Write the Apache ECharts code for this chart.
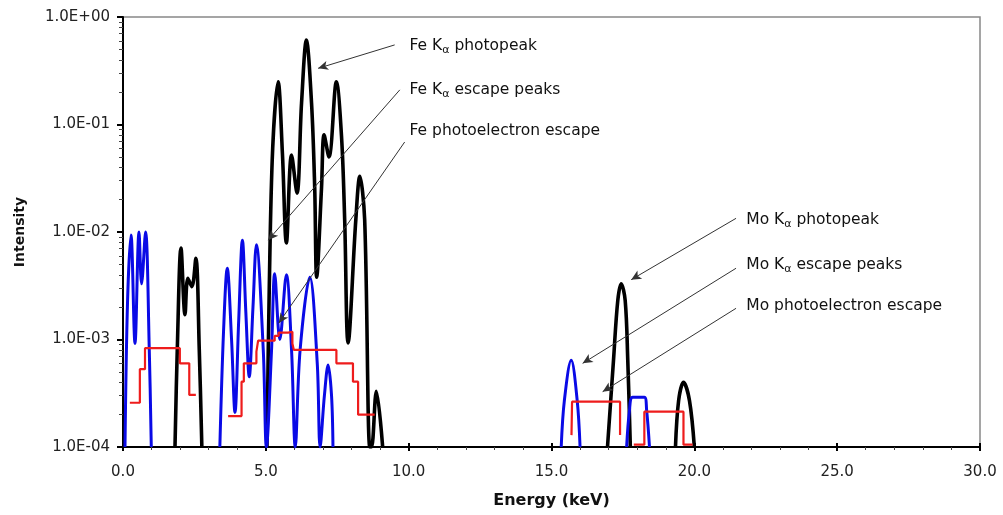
<!DOCTYPE html>
<html>
<head>
<meta charset="utf-8">
<style>
html, body { margin: 0; padding: 0; background: #fff; }
#chart { width: 1003px; height: 515px; }
</style>
<script src="https://cdn.jsdelivr.net/npm/echarts@6.0.0/dist/echarts.min.js"></script>
</head>
<body>
<div id="chart"></div>
<script>
// tick labels
const xTickLabels = ['0.0', '5.0', '10.0', '15.0', '20.0', '25.0', '30.0'];
const yTickLabels = ['1.0E-04', '1.0E-03', '1.0E-02', '1.0E-01', '1.0E+00'];

// photopeaks (black): [keV, intensity], one array per peak group
const blackSegments = [
    [[1.82, 1e-4], [1.90, 8e-4], [2.03, 7.1e-3], [2.17, 1.7e-3], [2.27, 3.7e-3], [2.41, 3.1e-3],
     [2.55, 5.7e-3], [2.67, 8e-4], [2.76, 1e-4]],
    [[5.04, 1e-4], [5.12, 3e-3], [5.24, 0.06], [5.43, 0.25], [5.58, 0.054], [5.72, 7.9e-3],
     [5.90, 0.052], [6.09, 0.023], [6.25, 0.158], [6.42, 0.61], [6.60, 0.158], [6.71, 0.0264],
     [6.78, 3.8e-3], [6.95, 0.026], [7.04, 0.080], [7.21, 0.050], [7.47, 0.25], [7.65, 0.077],
     [7.76, 0.013], [7.88, 9.3e-4], [8.15, 0.013], [8.29, 0.033], [8.46, 0.013], [8.64, 1e-4],
     [8.70, 1e-4], [8.87, 3.3e-4], [9.09, 1e-4]],
    [[16.96, 1e-4], [17.17, 6.4e-4], [17.32, 2.3e-3], [17.44, 3.3e-3], [17.58, 2.3e-3],
     [17.67, 6.4e-4], [17.76, 1e-4]],
    [[19.34, 1e-4], [19.45, 2.7e-4], [19.62, 4.0e-4], [19.83, 2.7e-4], [20.0, 1e-4]]
];

// escape peaks (blue)
const blueSegments = [
    [[0.07, 1e-4], [0.16, 2.3e-3], [0.28, 9.4e-3], [0.42, 9.2e-4], [0.56, 1.0e-2], [0.65, 3.3e-3],
     [0.79, 1.0e-2], [0.92, 8e-4], [0.99, 1e-4]],
    [[3.39, 1e-4], [3.52, 1.2e-3], [3.65, 4.6e-3], [3.80, 1e-3], [3.92, 2.1e-4], [4.05, 1.5e-3],
     [4.18, 8.4e-3], [4.30, 1.8e-3], [4.42, 4.5e-4], [4.55, 2e-3], [4.67, 7.6e-3], [4.91, 8e-4],
     [5.02, 1e-4], [5.20, 8e-4], [5.31, 4.1e-3], [5.49, 1.0e-3], [5.72, 4.0e-3], [5.90, 8e-4],
     [6.03, 1e-4], [6.20, 8e-4], [6.54, 3.8e-3], [6.80, 6e-4], [6.90, 1e-4], [7.05, 3e-4],
     [7.18, 5.8e-4], [7.30, 3e-4], [7.35, 1e-4]],
    [[15.34, 1e-4], [15.45, 2.7e-4], [15.69, 6.4e-4], [15.90, 2.7e-4], [16.0, 1e-4]],
    [[17.63, 1e-4], [17.73, 2.2e-4], [17.84, 2.9e-4], [18.25, 2.9e-4], [18.33, 2.2e-4], [18.43, 1e-4]]
];

// photoelectron escape (red), step levels: value holds until next point
const redSegments = [
    [[0.24, 2.58e-4], [0.59, 5.3e-4], [0.77, 8.3e-4], [1.99, 6.0e-4], [2.32, 3.05e-4], [2.55, 3.05e-4]],
    [[3.68, 1.94e-4], [4.15, 4.05e-4], [4.23, 6.0e-4], [4.67, 7.7e-4], [4.73, 9.75e-4], [5.31, 1.08e-3],
     [5.45, 1.16e-3], [5.78, 1.18e-3], [5.93, 9.2e-4], [5.98, 8.0e-4], [7.47, 6.0e-4], [8.05, 4.05e-4],
     [8.23, 2.0e-4], [8.81, 2.0e-4]],
    [[15.70, 1.29e-4], [15.72, 2.64e-4], [17.40, 1.29e-4], [17.41, 1.29e-4]],
    [[17.88, 1.05e-4], [18.25, 2.13e-4], [19.62, 1.05e-4], [19.94, 1.05e-4]]
];

// annotations: arrow [from, to] and text anchors (data coords)
const arrowLines = [
    [[9.51, 0.55], [6.83, 0.333]],
    [[9.69, 0.21], [5.08, 8.4e-3]],
    [[9.86, 0.0687], [5.45, 1.42e-3]],
    [[21.46, 0.0134], [17.79, 3.6e-3]],
    [[21.46, 4.6e-3], [16.09, 6.0e-4]],
    [[21.46, 1.95e-3], [16.79, 3.27e-4]]
];
const labelTexts = [
    'Fe K{s|α} photopeak', 'Fe K{s|α} escape peaks', 'Fe photoelectron escape',
    'Mo K{s|α} photopeak', 'Mo K{s|α} escape peaks', 'Mo photoelectron escape'
];
const labelAnchors = [[10.03, 0.537], [10.03, 0.209], [10.03, 0.087],
                      [21.82, 0.01294], [21.82, 4.93e-3], [21.82, 2.05e-3]];

const FONT = 'DejaVu Sans';

// log minor ticks 2..9 per decade
const minorValues = [];
for (let e = -4; e < 0; e++) {
    for (let m = 2; m <= 9; m++) minorValues.push(m * Math.pow(10, e));
}

const lineSeries = (segs, color, width, extra) => segs.map(seg => Object.assign({
    type: 'line',
    data: seg,
    symbol: 'none',
    clip: true,
    silent: true,
    lineStyle: { color: color, width: width },
    z: 2
}, extra));

const series = [
    ...lineSeries(blackSegments, '#000', 3.6, { smooth: 0.35 }),
    ...lineSeries(blueSegments, '#0a0ae6', 3, { smooth: 0.35, z: 3 }),
    ...lineSeries(redSegments, '#ee1c1c', 2.2, { step: 'end', z: 4 }),
    {
        type: 'line',
        data: [],
        silent: true,
        markLine: {
            silent: true,
            animation: false,
            symbol: ['none', 'arrow'],
            symbolSize: [7, 10],
            label: { show: false },
            lineStyle: { color: '#333', width: 1, type: 'solid' },
            emphasis: { disabled: true },
            data: arrowLines.map(([a, b]) => [{ coord: a }, { coord: b }])
        }
    }
];

const chart = echarts.init(document.getElementById('chart'));
chart.setOption({
    animation: false,
    backgroundColor: '#fff',
    grid: { left: 123, right: 23, top: 17, bottom: 68, show: true, borderColor: '#888', borderWidth: 1.5 },
    xAxis: [{
        type: 'value', min: 0, max: 30, interval: 5,
        name: 'Energy (keV)', nameLocation: 'middle', nameGap: 46,
        nameTextStyle: { fontFamily: FONT, fontWeight: 'bold', fontSize: 16, color: '#111' },
        axisLine: { lineStyle: { color: '#000', width: 2 } },
        axisTick: { length: 4, lineStyle: { color: '#000', width: 2 } },
        minorTick: { show: true, splitNumber: 5, length: 3, lineStyle: { color: '#444', width: 1 } },
        axisLabel: { formatter: v => xTickLabels[Math.round(v / 5)], margin: 18, fontFamily: FONT, fontSize: 15, color: '#222' },
        splitLine: { show: false }
    }, {
        type: 'value', min: 0, max: 30, interval: 5, position: 'bottom',
        axisLine: { show: false }, axisLabel: { show: false }, splitLine: { show: false },
        axisTick: { inside: true, length: 4, lineStyle: { color: '#000', width: 2 } }
    }],
    yAxis: [{
        type: 'log', logBase: 10, min: 1e-4, max: 1,
        name: 'Intensity', nameLocation: 'middle', nameGap: 96,
        nameTextStyle: { fontFamily: FONT, fontWeight: 'bold', fontSize: 14, color: '#111' },
        axisLine: { lineStyle: { color: '#000', width: 2 } },
        axisTick: { length: 6, lineStyle: { color: '#000', width: 2 } },
        axisLabel: { formatter: v => yTickLabels[Math.round(Math.log10(v)) + 4], margin: 13, fontFamily: FONT, fontSize: 15, color: '#222' },
        splitLine: { show: false }
    }, {
        type: 'log', logBase: 10, min: 1e-4, max: 1, position: 'left',
        axisLine: { show: false }, axisLabel: { show: false }, splitLine: { show: false },
        axisTick: { customValues: minorValues, length: 4, lineStyle: { color: '#444', width: 1 } }
    }],
    series: series
});

// text labels placed from data anchors
const graphic = labelTexts.map((t, i) => {
    const p = chart.convertToPixel({ xAxisIndex: 0, yAxisIndex: 0 }, labelAnchors[i]);
    return {
        type: 'text', x: p[0], y: p[1], silent: true,
        style: {
            text: t, fontFamily: FONT, fontSize: 15.5, fill: '#111',
            verticalAlign: 'middle', align: 'left', lineHeight: 20,
            rich: { s: { fontFamily: FONT, fontSize: 11, fill: '#111', lineHeight: 11, verticalAlign: 'bottom' } }
        }
    };
});
chart.setOption({ graphic: graphic });
</script>
</body>
</html>
